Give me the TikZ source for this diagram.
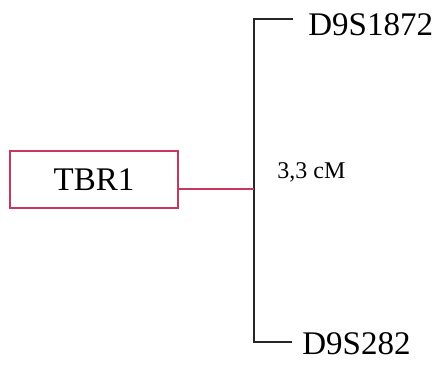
\documentclass[tikz,border=0pt]{standalone}
\usepackage{fontspec}
\setmainfont{Liberation Serif}
\definecolor{mycrimson}{HTML}{C8385E}
\usetikzlibrary{positioning, calc}
\tikzset{
	genebox/.style={draw=mycrimson, line width=1pt, minimum width=84pt, minimum height=28.5pt, inner sep=0pt, font=\fontsize{16.5}{18}\selectfont},
	markertext/.style={anchor=west, inner sep=0pt, font=\fontsize{16.5}{18}\selectfont},
	disttext/.style={anchor=west, inner sep=0pt, font=\fontsize{12}{14}\selectfont},
	mapline/.style={line width=1pt, black!85}
}

\begin{document}
\begin{tikzpicture}[x=0.5pt, y=-0.5pt]
      \useasboundingbox (0,0) rectangle (445,369);
      % gene box on the left
      \node[genebox] (tbr) at (94,180) {TBR1};
      % the map bracket
      \coordinate (ttop) at (254,19);
      \coordinate (tbot) at (254,342);
      \coordinate (ctop) at (293,19);
      \coordinate (cbot) at (292,342);
      \coordinate (junc) at (254,189);
      \draw[mapline] (ctop) -- (ttop) -- (tbot) -- (cbot);
      % markers
      \foreach \n/\x/\y/\l in {m1/308/25/D9S1872, m2/302/344/D9S282}
        \node[markertext] (\n) at (\x,\y) {\l};
      \node[disttext] (dist) at (277,172) {3,3 cM};
      % link from the gene to the map
      \draw[mycrimson, line width=1pt] (tbr.east |- junc) -- (junc);
    \end{tikzpicture}
\end{document}
